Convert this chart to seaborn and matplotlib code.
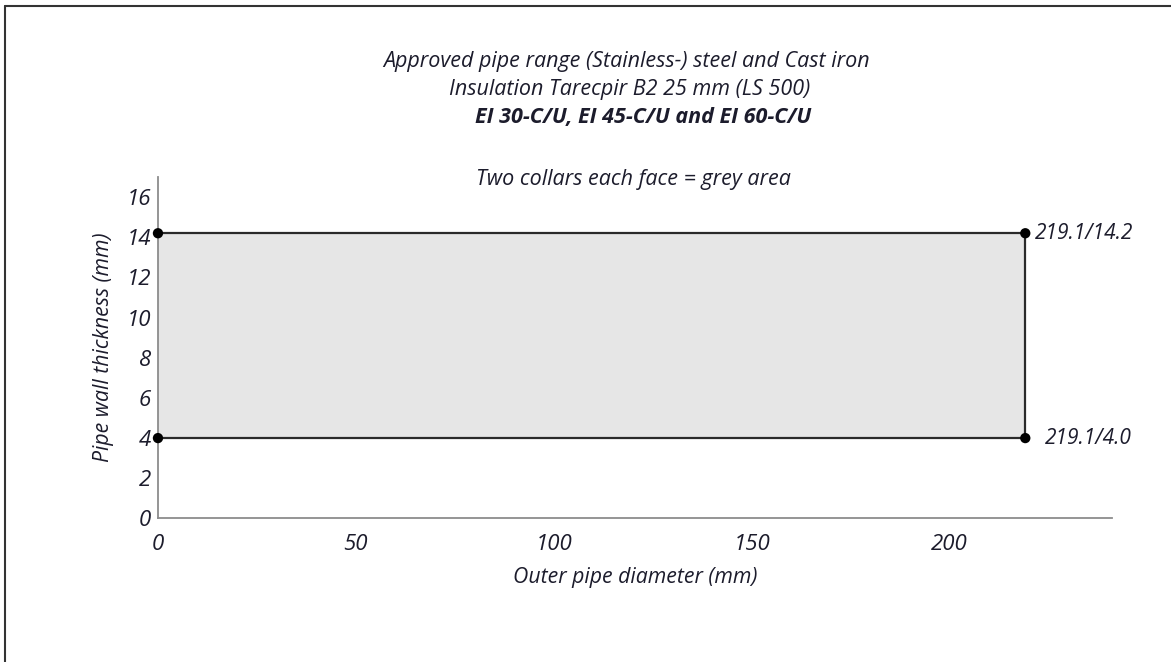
import numpy as np
import pandas as pd
import matplotlib
matplotlib.use("Agg")
import matplotlib.pyplot as plt
from matplotlib.lines import Line2D
import seaborn as sns

# approved range corners (outer diameter / wall thickness)
diam_min = 0
diam_max = 219.1
wall_min = 4.0
wall_max = 14.2

path_x = [diam_min, diam_max, diam_max, diam_min]
path_y = [wall_min, wall_min, wall_max, wall_max]
corner_labels = ["219.1/4.0", "219.1/14.2"]

x_ticks = [0, 50, 100, 150, 200]
y_ticks = [0, 2, 4, 6, 8, 10, 12, 14, 16]

title_lines = [
    "Approved pipe range (Stainless-) steel and Cast iron",
    "Insulation Tarecpir B2 25 mm (LS 500)",
    "EI 30-C/U, EI 45-C/U and EI 60-C/U",
]
note = "Two collars each face = grey area"

sns.set_style("white")
plt.rcParams['font.family'] = ['Open Sans', 'DejaVu Sans']
plt.rcParams['font.style'] = 'italic'

txt = '#1c1c2c'

fig = plt.figure(figsize=(11.71, 6.62), dpi=100)
ax = fig.add_axes([0.1349, 0.2169, 0.8147, 0.5157])

df = pd.DataFrame({'d': path_x, 't': path_y})
ax.fill_between([diam_min, diam_max], wall_min, wall_max, color='#e6e6e6', lw=0, zorder=1)
sns.lineplot(data=df, x='d', y='t', sort=False, estimator=None, color='#2a2a2a', lw=1.6, ax=ax, zorder=2)
sns.scatterplot(data=df, x='d', y='t', color='black', s=55, edgecolor='none', ax=ax, zorder=5, clip_on=False)

ax.annotate(corner_labels[1], (diam_max, wall_max), xytext=(7, 0), textcoords='offset points',
            fontsize=15, va='center', ha='left', color=txt)
ax.annotate(corner_labels[0], (diam_max, wall_min), xytext=(14, 0), textcoords='offset points',
            fontsize=15, va='center', ha='left', color=txt)

ax.set_xlim(0, 241)
ax.set_ylim(0, 17)
ax.set_xticks(x_ticks)
ax.set_yticks(y_ticks)
ax.tick_params(axis='both', length=0, labelsize=16, labelcolor=txt)
ax.tick_params(axis='x', pad=11)
ax.tick_params(axis='y', pad=5)
for s in ['top', 'right']:
    ax.spines[s].set_visible(False)
for s in ['left', 'bottom']:
    ax.spines[s].set_color('#8c8c8c')
    ax.spines[s].set_linewidth(1.3)

ax.set_xlabel("Outer pipe diameter (mm)", fontsize=15.3, color=txt, labelpad=9)
ax.set_ylabel("Pipe wall thickness (mm)", fontsize=15.3, color=txt, labelpad=9)

# header text
fig.text(0.535, 1 - 62 / 662, title_lines[0], fontsize=15.5, ha='center', va='center', color=txt)
fig.text(0.538, 1 - 89 / 662, title_lines[1], fontsize=15.5, ha='center', va='center', color=txt)
fig.text(0.549, 1 - 117 / 662, title_lines[2], fontsize=15.5, ha='center', va='center', color=txt, fontweight='bold')
fig.text(0.541, 1 - 179 / 662, note, fontsize=15.5, ha='center', va='center', color=txt)

# page frame (top and left edges)
fig.add_artist(Line2D([5 / 1171, 1.0], [1 - 6 / 662, 1 - 6 / 662], color='#333333', lw=1.5, transform=fig.transFigure))
fig.add_artist(Line2D([5 / 1171, 5 / 1171], [0, 1 - 6 / 662], color='#333333', lw=1.5, transform=fig.transFigure))

fig.savefig("out.png", dpi=100)
